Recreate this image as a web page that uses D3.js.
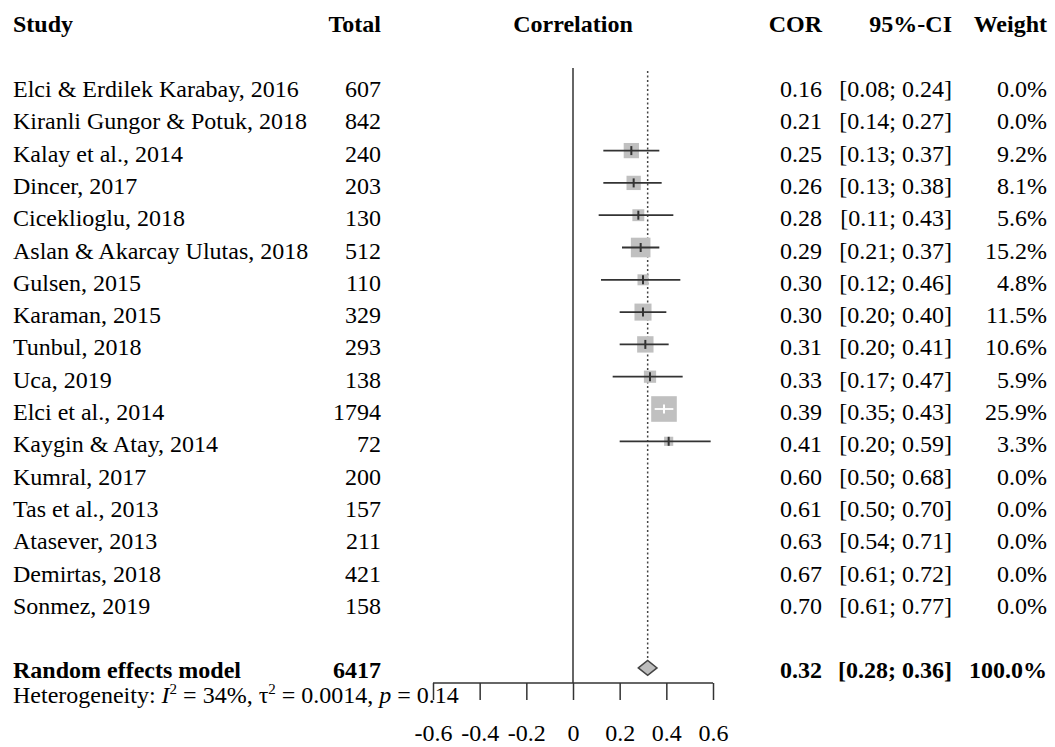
<!DOCTYPE html>
<html>
<head>
<meta charset="utf-8">
<script src="https://cdn.jsdelivr.net/npm/d3@7"></script>
<style>
  html, body { margin: 0; padding: 0; background: #fff; }
  svg { display: block; font-family: "Liberation Serif", "Times New Roman", serif; }
</style>
</head>
<body>
<svg id="chart" width="1055" height="747"></svg>
<script>
// ---- data ----
const studies = [
  "Elci & Erdilek Karabay, 2016", "Kiranli Gungor & Potuk, 2018", "Kalay et al., 2014",
  "Dincer, 2017", "Cicekliogłu, 2018", "Aslan & Akarcay Ulutas, 2018", "Gulsen, 2015",
  "Karaman, 2015", "Tunbul, 2018", "Uca, 2019", "Elci et al., 2014", "Kaygin & Atay, 2014",
  "Kumral, 2017", "Tas et al., 2013", "Atasever, 2013", "Demirtas, 2018", "Sonmez, 2019"
];
studies[4] = "Cicekliogłu, 2018".replace("ł", "l");
const totals  = [607, 842, 240, 203, 130, 512, 110, 329, 293, 138, 1794, 72, 200, 157, 211, 421, 158];
const cor     = [0.16, 0.21, 0.25, 0.26, 0.28, 0.29, 0.30, 0.30, 0.31, 0.33, 0.39, 0.41, 0.60, 0.61, 0.63, 0.67, 0.70];
const lower   = [0.08, 0.14, 0.13, 0.13, 0.11, 0.21, 0.12, 0.20, 0.20, 0.17, 0.35, 0.20, 0.50, 0.50, 0.54, 0.61, 0.61];
const upper   = [0.24, 0.27, 0.37, 0.38, 0.43, 0.37, 0.46, 0.40, 0.41, 0.47, 0.43, 0.59, 0.68, 0.70, 0.71, 0.72, 0.77];
const weights = [0.0, 0.0, 9.2, 8.1, 5.6, 15.2, 4.8, 11.5, 10.6, 5.9, 25.9, 3.3, 0.0, 0.0, 0.0, 0.0, 0.0];

const pooledLabel = "Random effects model";
const pooledTotal = 6417;
const pooled = { est: 0.32, lo: 0.28, hi: 0.36, weight: 100.0 };
const heterogeneity = { I2: "34%", tau2: "0.0014", p: "0.14" };

const headers = ["Study", "Total", "Correlation", "COR", "95%-CI", "Weight"];
const xTicks = [-0.6, -0.4, -0.2, 0, 0.2, 0.4, 0.6];

// ---- layout ----
const svg = d3.select("#chart");
const FS = 24;
const x = d3.scaleLinear().domain([-0.6, 0.6]).range([433, 713]);
const y = d3.scaleLinear().domain([0, 1]).range([97, 129.3]); // row index -> baseline
const markOff = -11;
const size = d3.scaleSqrt().domain([0, 25.9]).range([0, 25.6]);
const f2 = d3.format(".2f"), f1 = d3.format(".1f");

const col = { study: 13, total: 381, cor: 822, ci: 952, weight: 1047 };

// headers
const hdrY = 32;
const hdr = svg.append("g").attr("font-size", FS).attr("font-weight", "bold").attr("fill", "#000");
hdr.append("text").attr("x", col.study).attr("y", hdrY).text(headers[0]);
hdr.append("text").attr("x", col.total).attr("y", hdrY).attr("text-anchor", "end").text(headers[1]);
hdr.append("text").attr("x", x(0)).attr("y", hdrY).attr("text-anchor", "middle").text(headers[2]);
hdr.append("text").attr("x", col.cor).attr("y", hdrY).attr("text-anchor", "end").text(headers[3]);
hdr.append("text").attr("x", col.ci).attr("y", hdrY).attr("text-anchor", "end").text(headers[4]);
hdr.append("text").attr("x", col.weight).attr("y", hdrY).attr("text-anchor", "end").text(headers[5]);

// reference lines
const pooledRow = 18;
svg.append("line").attr("x1", x(0)).attr("x2", x(0)).attr("y1", 68).attr("y2", 683)
  .attr("stroke", "#333").attr("stroke-width", 1.5);
svg.append("line").attr("x1", x(pooled.est)).attr("x2", x(pooled.est))
  .attr("y1", 71).attr("y2", y(pooledRow) + markOff - 7.5)
  .attr("stroke", "#444").attr("stroke-width", 1.5).attr("stroke-dasharray", "2,2.5");

// study rows
const rows = svg.append("g").attr("font-size", FS).attr("fill", "#000");
studies.forEach((s, i) => {
  const by = y(i);
  rows.append("text").attr("x", col.study).attr("y", by).text(s);
  rows.append("text").attr("x", col.total).attr("y", by).attr("text-anchor", "end").text(totals[i]);
  rows.append("text").attr("x", col.cor).attr("y", by).attr("text-anchor", "end").text(f2(cor[i]));
  rows.append("text").attr("x", col.ci).attr("y", by).attr("text-anchor", "end").attr("xml:space", "preserve")
    .text("[" + f2(lower[i]) + "; " + f2(upper[i]) + "]");
  rows.append("text").attr("x", col.weight).attr("y", by).attr("text-anchor", "end").text(f1(weights[i]) + "%");
});

// markers (only studies with weight > 0)
const marks = svg.append("g");
studies.forEach((s, i) => {
  if (weights[i] <= 0) return;
  const cy = y(i) + markOff;
  const side = size(weights[i]);
  const cx = x(cor[i]);
  marks.append("rect").attr("x", cx - side / 2).attr("y", cy - side / 2)
    .attr("width", side).attr("height", side).attr("fill", "#c0c0c0");
  const inside = x(lower[i]) >= cx - side / 2 && x(upper[i]) <= cx + side / 2;
  const lc = inside ? "#fff" : "#333";
  marks.append("line").attr("x1", x(lower[i])).attr("x2", x(upper[i])).attr("y1", cy).attr("y2", cy)
    .attr("stroke", lc).attr("stroke-width", 1.8);
  marks.append("line").attr("x1", cx).attr("x2", cx).attr("y1", cy - 4.5).attr("y2", cy + 4.5)
    .attr("stroke", lc).attr("stroke-width", 2);
});

// pooled row
const py = y(pooledRow);
const pr = svg.append("g").attr("font-size", FS).attr("font-weight", "bold").attr("fill", "#000");
pr.append("text").attr("x", col.study).attr("y", py).text(pooledLabel);
pr.append("text").attr("x", col.total).attr("y", py).attr("text-anchor", "end").text(pooledTotal);
pr.append("text").attr("x", col.cor).attr("y", py).attr("text-anchor", "end").text(f2(pooled.est));
pr.append("text").attr("x", col.ci).attr("y", py).attr("text-anchor", "end").attr("xml:space", "preserve")
  .text("[" + f2(pooled.lo) + "; " + f2(pooled.hi) + "]");
pr.append("text").attr("x", col.weight).attr("y", py).attr("text-anchor", "end").text(f1(pooled.weight) + "%");

const dcy = py + markOff + 0.5;
svg.append("path")
  .attr("d", `M${x(pooled.lo)},${dcy} L${x(pooled.est)},${dcy - 7.5} L${x(pooled.hi)},${dcy} L${x(pooled.est)},${dcy + 7.5} Z`)
  .attr("fill", "#bdbdbd").attr("stroke", "#444").attr("stroke-width", 1.5);

// axis
const axisG = svg.append("g").attr("transform", "translate(0,683)");
const axis = d3.axisBottom(x).tickValues(xTicks).tickSize(17).tickPadding(22)
  .tickFormat(d => d === 0 ? "0" : d3.format(".1f")(d));
axisG.call(axis);
axisG.select(".domain").attr("stroke", "#333").attr("stroke-width", 1.5).attr("d", `M${x(-0.6)},0H${x(0.6)}`);
axisG.selectAll(".tick line").attr("stroke", "#333").attr("stroke-width", 1.5);
axisG.selectAll(".tick text").attr("font-size", FS).attr("font-family", "Liberation Serif, serif")
  .attr("fill", "#000").attr("dy", null).attr("y", 58);
axisG.selectAll(".tick text").text(d => d === 0 ? "0" : d3.format(".1f")(d).replace("−", "-"));

// heterogeneity
const ht = svg.append("text").attr("x", col.study).attr("y", 703).attr("font-size", FS).attr("fill", "#000");
ht.append("tspan").text("Heterogeneity: ");
ht.append("tspan").attr("font-style", "italic").text("I");
ht.append("tspan").attr("font-size", 15).attr("dy", -9).text("2");
ht.append("tspan").attr("dy", 9).text(" = " + heterogeneity.I2 + ", τ");
ht.append("tspan").attr("font-size", 15).attr("dy", -9).text("2");
ht.append("tspan").attr("dy", 9).text(" = " + heterogeneity.tau2 + ", ");
ht.append("tspan").attr("font-style", "italic").text("p");
ht.append("tspan").text(" = " + heterogeneity.p);
</script>
</body>
</html>
